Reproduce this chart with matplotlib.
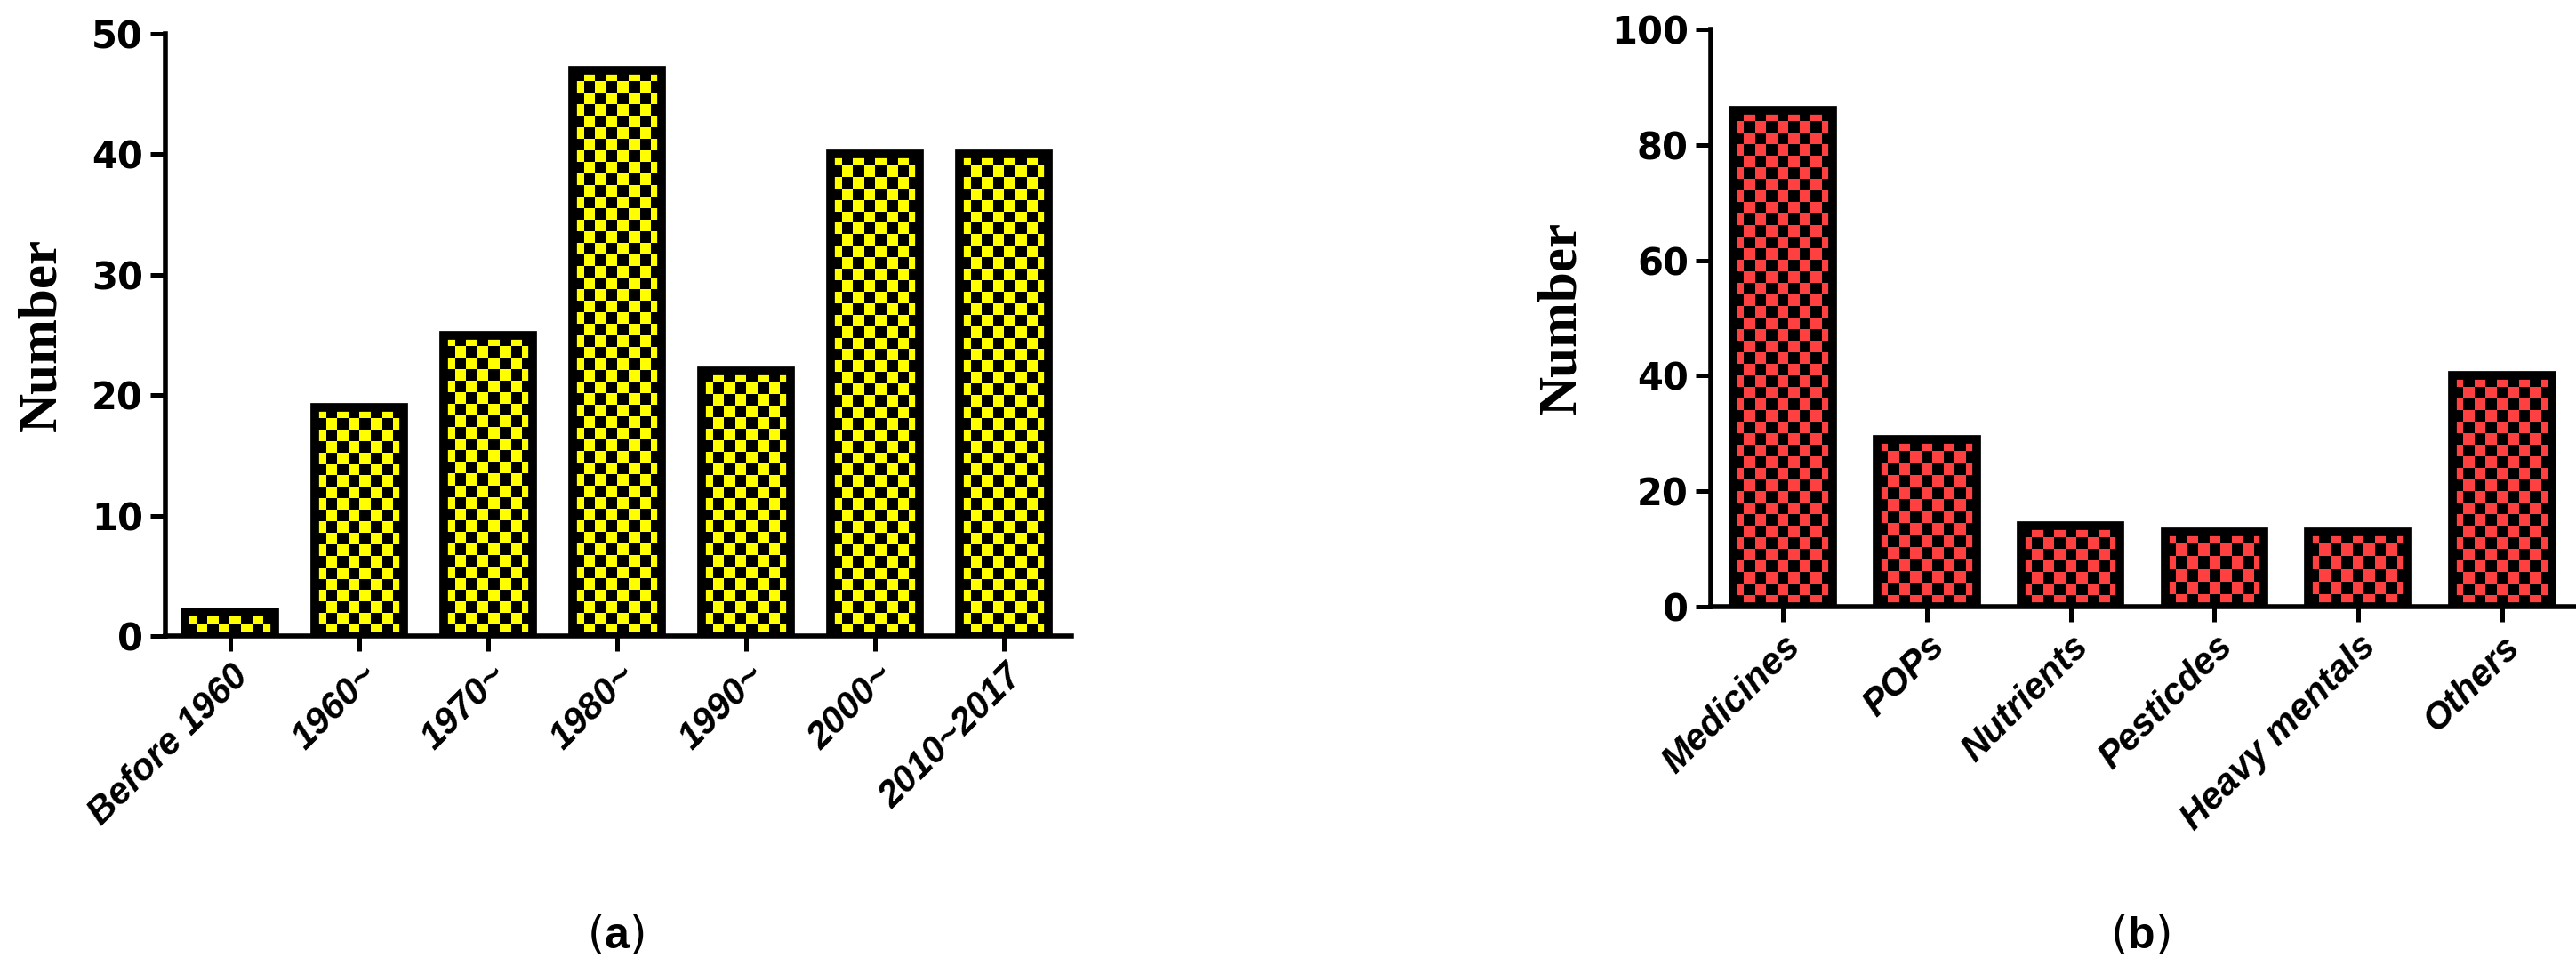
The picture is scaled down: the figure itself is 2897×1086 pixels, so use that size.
import matplotlib
matplotlib.use("Agg")
import matplotlib.pyplot as plt
import numpy as np
from matplotlib.colors import ListedColormap

periods = ["Before 1960", "1960~", "1970~", "1980~", "1990~", "2000~", "2010~2017"]
period_counts = [2, 19, 25, 47, 22, 40, 40]
types = ["Medicines", "POPs", "Nutrients", "Pesticdes", "Heavy mentals", "Others"]
type_counts = [86, 29, 14, 13, 13, 40]

plt.rcParams['mathtext.fontset'] = 'custom'
plt.rcParams['mathtext.bf'] = 'Liberation Sans:bold'

fig = plt.figure(figsize=(28.97, 10.86), dpi=100)
axa = fig.add_axes([0.0642, 0.3416, 0.3517, 0.6234])
axb = fig.add_axes([0.6641, 0.372, 0.3352, 0.5976])

CELL = 13  # pixels

def draw(ax, cats, vals, ylim, yticks, color, xmax):
    ax.set_xlim(-0.5, xmax)
    ax.set_ylim(0, ylim)
    x = np.arange(len(cats))
    bars = ax.bar(x, vals, width=0.69, color='black', edgecolor='black', linewidth=0, zorder=2)
    fig.canvas.draw()
    cmap = ListedColormap(['black', color])
    for b in bars:
        x0, y0 = b.get_x(), b.get_y()
        w, h = b.get_width(), b.get_height()
        p0 = ax.transData.transform((x0, y0))
        p1 = ax.transData.transform((x0 + w, y0 + h))
        nx = max(1, int(round((p1[0] - p0[0]) / CELL)))
        ny = max(1, int(round((p1[1] - p0[1]) / CELL)))
        yy, xx = np.mgrid[0:ny, 0:nx]
        board = ((xx + yy) % 2).astype(float)
        im = ax.imshow(board, cmap=cmap, vmin=0, vmax=1, extent=(x0, x0 + w, y0, y0 + h),
                       origin='lower', aspect='auto', interpolation='nearest', zorder=3)
        im.set_clip_path(b)
    ax.bar(x, vals, width=0.69, fill=False, edgecolor='black', linewidth=7, zorder=4)
    ax.set_xlim(-0.5, xmax)
    ax.set_ylim(0, ylim)
    ax.set_yticks(yticks)
    ax.set_yticklabels([str(t) for t in yticks], fontfamily='Liberation Sans Narrow',
                       fontweight='bold', fontsize=30)
    ax.set_xticks(x)
    ax.set_xticklabels(cats, rotation=45, ha='right', rotation_mode='anchor',
                       fontfamily='Liberation Sans', fontweight='bold', fontstyle='italic', fontsize=30)
    for s in ['top', 'right']:
        ax.spines[s].set_visible(False)
    for s in ['left', 'bottom']:
        ax.spines[s].set_linewidth(4)
    ax.tick_params(length=12, width=3.6, pad=6)
    ax.set_ylabel("Number", fontfamily='Liberation Serif', fontweight='bold', fontsize=44, labelpad=20)

draw(axa, periods, period_counts, 50, [0, 10, 20, 30, 40, 50], '#FFFF00', 6.52)
draw(axb, types, type_counts, 100, [0, 20, 40, 60, 80, 100], '#FF4040', 5.5)

fig.text(692 / 2897, 1 - 1051 / 1086, r"($\mathbf{a}$)", fontsize=36, ha='center', va='center',
         fontfamily='Liberation Sans Narrow')
fig.text(2407 / 2897, 1 - 1051 / 1086, r"($\mathbf{b}$)", fontsize=36, ha='center', va='center',
         fontfamily='Liberation Sans Narrow')

fig.savefig("out.png", dpi=100)
